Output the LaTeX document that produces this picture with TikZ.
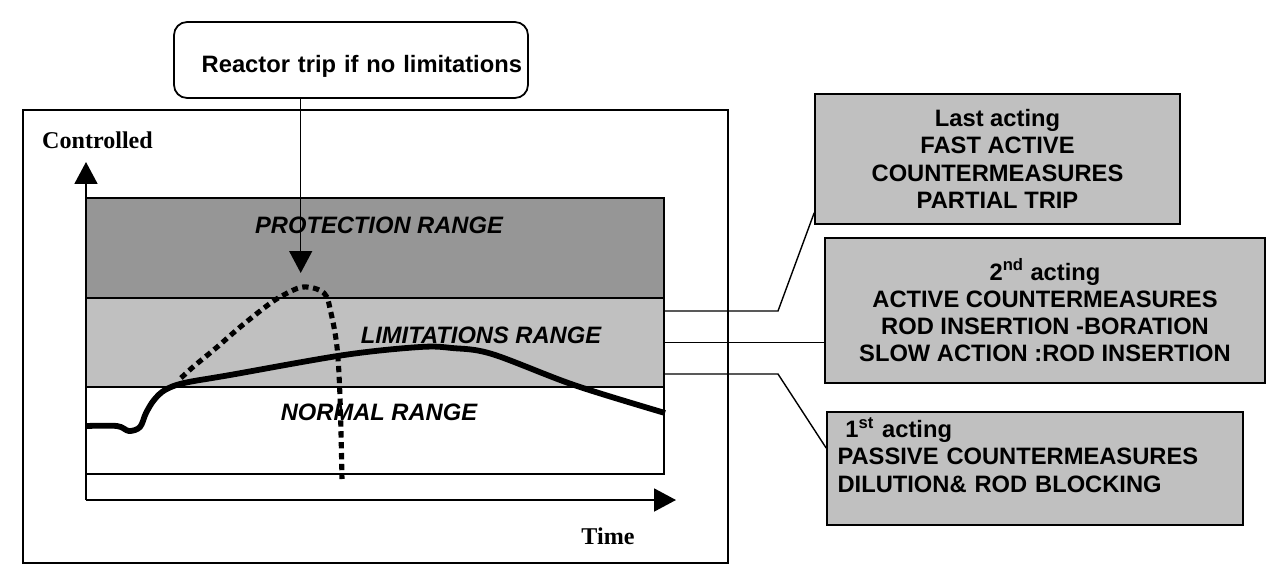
\documentclass[tikz,border=0pt]{standalone}
\usepackage{fontspec}
\setmainfont{Liberation Sans}
\newfontfamily\timesfont{Liberation Serif}
\usetikzlibrary{arrows.meta}
\definecolor{protgray}{RGB}{150,150,150}
\definecolor{limgray}{RGB}{192,192,192}

\begin{document}
\begin{tikzpicture}[x=0.02cm, y=-0.02cm,
  every node/.style={font=\fontsize{13.5}{15.5}\selectfont\bfseries},
  band/.style={draw, line width=1pt, fill=#1, minimum width=11.56cm, inner sep=0pt},
  actbox/.style={draw, line width=1pt, fill=limgray, align=center},
  rangetext/.style={font=\fontsize{13.5}{15.5}\selectfont\bfseries\itshape},
  axislabel/.style={font=\timesfont\fontsize{13.7}{15}\selectfont\bfseries},
  arrow/.style={-{Triangle[length=0.44cm, width=0.46cm]}},
  link/.style={line width=0.8pt}
]
\useasboundingbox (0,0) rectangle (1281,575);
\node[draw, line width=1.1pt, minimum width=14.1cm, minimum height=9.06cm] (frame) at (375.5,336.5) {};
\node[draw, line width=1pt, rounded corners=0.26cm, minimum width=7.08cm, minimum height=1.52cm,
      text width=6.84cm, inner xsep=0.12cm, align=right, text height=0.7cm, text depth=0.18cm]
      (trip) at (351,60) {Reactor trip if no limitations};

\node[band=protgray, minimum height=2cm]  (prot) at (375,248)   {};
\node[band=limgray,  minimum height=1.78cm] (lim)  at (375,342.5) {};
\node[band=white,    minimum height=1.74cm] (norm) at (375,430.5) {};
\node[rangetext] (protlabel) at (379,225) {PROTECTION RANGE};
\node[rangetext] (limlabel)  at (481,335) {LIMITATIONS RANGE};
\node[rangetext] (normlabel) at (379,412) {NORMAL RANGE};

\node[axislabel] (ylabel) at (97.5,140) {Controlled};
\node[axislabel] (xlabel) at (608,536) {Time};
\coordinate (origin) at (86,500);
\coordinate (ytip) at (86,162);
\coordinate (xtip) at (676,500);
\draw[arrow, line width=1.1pt] (origin) -- (ytip);
\draw[arrow, line width=1.1pt] (origin) -- (xtip);

\draw[line width=3.3pt] plot[smooth, tension=0.55] coordinates {(86,426) (117,426) (129,431) (140,427) (146,413)
  (154,400) (165,390) (184,383) (230,375) (344,355) (420,347) (452,348) (492,354) (574,385) (665,413)};
\draw[line width=2.9pt, dash pattern=on 3.6pt off 2.6pt] plot[smooth, tension=0.55] coordinates {(181,378) (193,367)
  (216,348) (239,328) (264,308) (280,297) (303,287) (324,293) (331,313) (337,347) (340,397) (342,479)};

\coordinate (peak) at (300.7,273);
\draw[arrow, line width=0.8pt] (trip.south -| peak) -- (peak);

\node[actbox, minimum width=7.3cm, minimum height=2.6cm] (last) at (997.5,159)
  {Last acting\\FAST ACTIVE\\COUNTERMEASURES\\PARTIAL TRIP};
\node[actbox, minimum width=8.8cm, minimum height=2.9cm] (second) at (1045,310.5)
  {2\textsuperscript{nd} acting\\ACTIVE COUNTERMEASURES\\ROD INSERTION -BORATION\\SLOW ACTION :ROD INSERTION};
\node[actbox, minimum width=8.32cm, minimum height=2.26cm, text width=7.9cm, align=left] (first) at (1035,468.5)
  {\ 1\textsuperscript{st} acting\\PASSIVE COUNTERMEASURES\\DILUTION\& ROD BLOCKING\\\mbox{}};

\coordinate (lim1) at (664,311);
\coordinate (lim3) at (664,374);
\draw[link] (lim1) -- (778,311) -- ([yshift=0.24cm]last.south west);
\draw[link] (lim.east) -- (lim.east -| second.west);
\draw[link] (lim3) -- (778,374) -- ([yshift=0.41cm]first.west);
\end{tikzpicture}
\end{document}
